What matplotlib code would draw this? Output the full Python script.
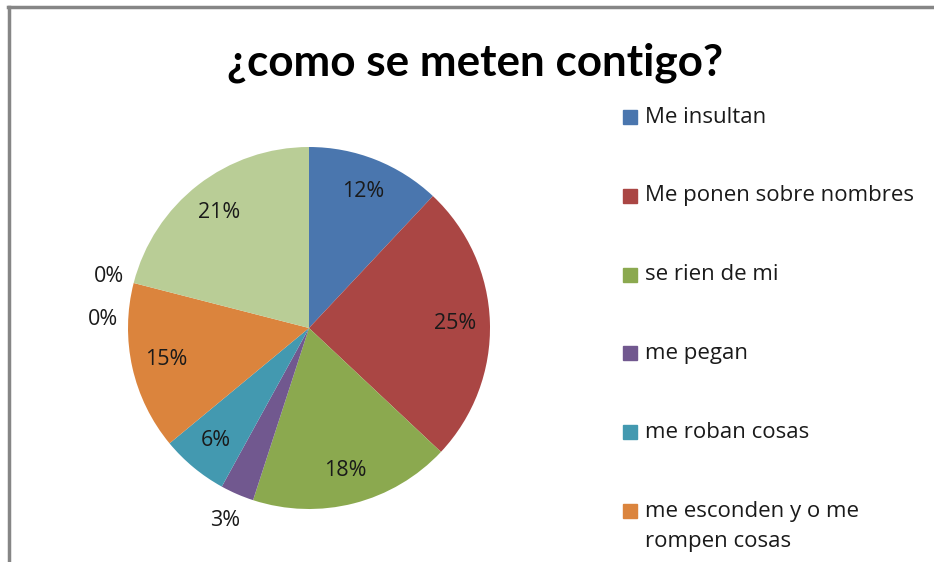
import numpy as np
import matplotlib.pyplot as plt
from matplotlib.patches import Rectangle
from matplotlib.lines import Line2D

plt.rcParams['font.family'] = ['Open Sans', 'DejaVu Sans']

# datos (porcentajes)
titulo = '¿como se meten contigo?'
categorias = ['Me insultan', 'Me ponen sobre nombres', 'se rien de mi', 'me pegan',
              'me roban cosas', 'me esconden y o me\nrompen cosas', 'otro 1', 'otro 2', 'otro 3']
valores = [12, 25, 18, 3, 6, 15, 0, 0, 21]
colores = ['#4A76AE', '#AA4644', '#8BA94F', '#71588F', '#4399B0', '#DB843D',
           '#2C4D75', '#772C2A', '#B9CD96']

W, H = 934, 562
fig = plt.figure(figsize=(W / 100, H / 100), dpi=100)

# marco del grafico
fig.add_artist(Line2D([8 / W, 1], [1 - 7 / H, 1 - 7 / H], color='#868686', lw=2.5))
fig.add_artist(Line2D([9 / W, 9 / W], [0, 1 - 7 / H], color='#868686', lw=2.5))

fig.text(475 / W, 1 - 63 / H, titulo, ha='center', va='center',
         fontsize=31.7, fontweight='bold', color='black', family=['Lato', 'DejaVu Sans'])

# pastel
cx, cy, r = 309, 328, 181
ax = fig.add_axes([(cx - r) / W, (H - cy - r) / H, 2 * r / W, 2 * r / H])
wedges, textos, autotextos = ax.pie(valores, colors=colores, startangle=90,
                                    counterclock=False, autopct='%.0f%%',
                                    pctdistance=0.81,
                                    wedgeprops=dict(linewidth=0),
                                    textprops=dict(fontsize=15.5, color='#1a1a1a'))
ax.set_xlim(-1, 1)
ax.set_ylim(-1, 1)

# etiquetas pequeñas fuera del pastel
ceros = 0
for w, t, v in zip(wedges, autotextos, valores):
    ang = (w.theta1 + w.theta2) / 2
    if v == 0:
        ang += 12 * ceros
        ceros += 1
        t.set_position((1.14 * np.cos(np.radians(ang)), 1.14 * np.sin(np.radians(ang))))
    elif v < 5:
        t.set_position((1.16 * np.cos(np.radians(ang)), 1.16 * np.sin(np.radians(ang))))

# leyenda
for i, (cat, col) in enumerate(zip(categorias[:6], colores[:6])):
    y = 117 + i * 78.8
    fig.add_artist(Rectangle((623 / W, 1 - (y + 7) / H), 14 / W, 14 / H,
                             transform=fig.transFigure, color=col))
    fig.text(645 / W, 1 - y / H, cat.split('\n')[0], ha='left', va='center',
             fontsize=16, color='#1a1a1a')
    if '\n' in cat:
        fig.text(645 / W, 1 - (y + 30) / H, cat.split('\n')[1], ha='left', va='center',
                 fontsize=16, color='#1a1a1a')

plt.savefig('out.png', dpi=100)
